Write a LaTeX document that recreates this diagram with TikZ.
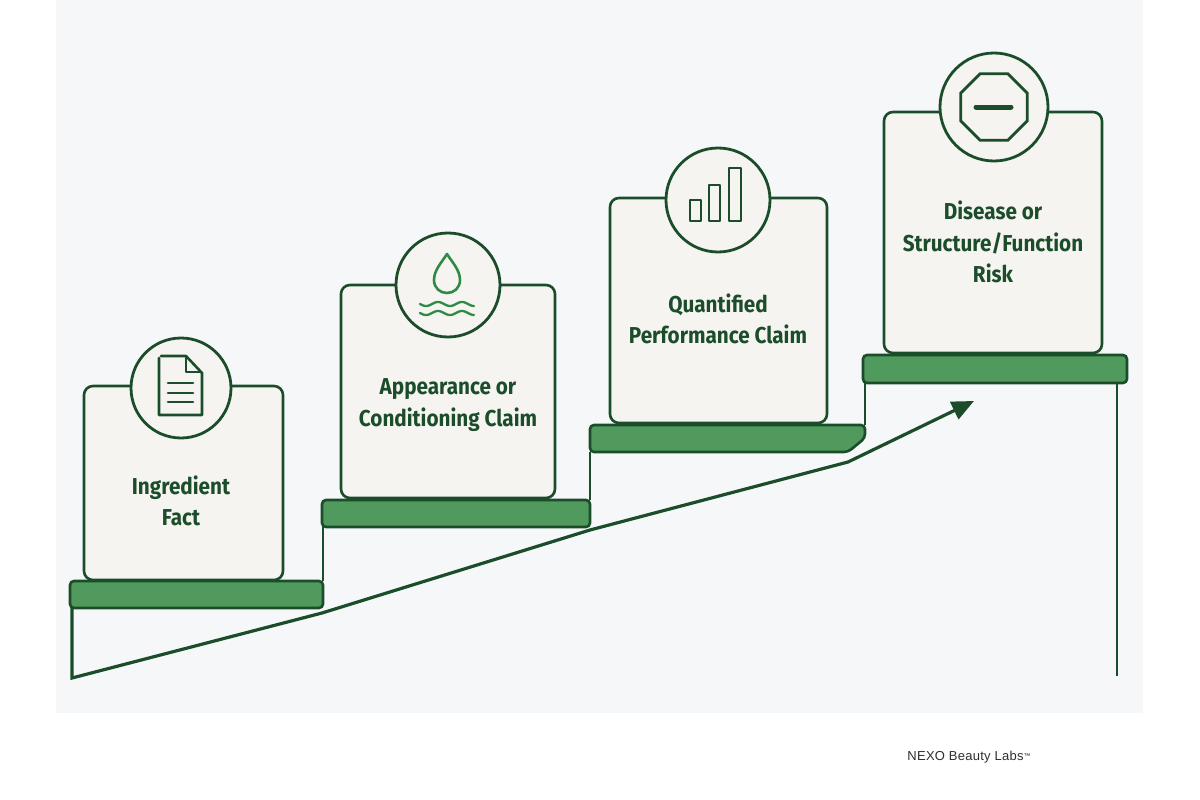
\documentclass[tikz,border=0pt]{standalone}
\usepackage{fontspec}
\setmainfont[FakeStretch=0.9]{Fira Sans}
\newfontfamily\footfont[LetterSpace=2]{Liberation Sans}
\usetikzlibrary{arrows.meta,shapes.geometric}
\definecolor{dg}{HTML}{1B4D2B}
\definecolor{pg}{HTML}{4F9A5C}
\definecolor{cardfill}{HTML}{F5F4F1}
\definecolor{panel}{HTML}{F6F7F9}
\definecolor{dropg}{HTML}{2F8A46}
\definecolor{foot}{HTML}{2E2E2E}
\begin{document}
\begin{tikzpicture}[x=1pt,y=-1pt,
  card/.style={draw=dg, line width=2.6pt, fill=cardfill, rounded corners=9pt, inner sep=0pt},
  badge/.style={circle, draw=dg, line width=2.8pt, fill=cardfill, inner sep=0pt},
  platform/.style={draw=dg, line width=2.6pt, fill=pg, rounded corners=4pt, inner sep=0pt},
  riser/.style={draw=dg, line width=2.6pt},
  trend/.style={draw=dg, line width=3.2pt, line join=miter},
  icon/.style={draw=dg, line width=2.6pt, line join=round, line cap=round},
  label/.style={text=dg, font=\bfseries\fontsize{23}{31.5}\selectfont, align=center, inner sep=0pt}
]
\useasboundingbox (0,0) rectangle (1200,800);
\fill[white] (0,0) rectangle (1200,800);
\fill[panel] (56,0) rectangle (1143,713);

% coordinates for the stair outline and trend
\coordinate (v0) at (72,606);
\coordinate (b0) at (72,678);
\coordinate (b1) at (322,613);
\coordinate (b2) at (590,530);
\coordinate (b3) at (848,462);
\coordinate (tip) at (974,401);
\coordinate (r1a) at (323,527);
\coordinate (r1b) at (323,581);
\coordinate (r2a) at (590,452);
\coordinate (r2b) at (590,500);
\coordinate (r3a) at (865,383);
\coordinate (r3b) at (865,425);
\coordinate (e0) at (1117,382);
\coordinate (e1) at (1117,676);

% risers and end lines
\draw[riser] (r1a) -- (r1b);
\draw[riser] (r2a) -- (r2b);
\draw[riser] (r3a) -- (r3b);
\draw[riser] (e0) -- (e1);
\draw[trend, -{Triangle[length=22pt,width=19pt]}] (v0) -- (b0) -- (b1) -- (b2) -- (b3) -- (tip);

% platforms
\node[platform, minimum width=253pt, minimum height=27pt] (p1) at (196.5,594.5) {};
\node[platform, minimum width=268pt, minimum height=27pt] (p2) at (456,513.5) {};
\draw[platform] (590,425) -- (865,425) -- (865,438) -- (848,452) -- (590,452) -- cycle;
\node[platform, minimum width=264pt, minimum height=28pt] (p4) at (995,369) {};

% cards
\node[card, minimum width=199pt, minimum height=194pt] (card1) at (183.5,483) {};
\node[card, minimum width=214pt, minimum height=213pt] (card2) at (448,391.5) {};
\node[card, minimum width=217pt, minimum height=225pt] (card3) at (718.5,310.5) {};
\node[card, minimum width=218pt, minimum height=241pt] (card4) at (993,232.5) {};

% badges
\node[badge, minimum size=100pt] (c1) at (181,388) {};
\node[badge, minimum size=104pt] (c2) at (448,285) {};
\node[badge, minimum size=104pt] (c3) at (718,200) {};
\node[badge, minimum size=108pt] (c4) at (994,107) {};

% icon 1: document
\draw[icon] (159,358) -- (159,415) -- (202,415) -- (202,373) -- (186,356) -- (161,356);
\draw[icon] (186,357) -- (186,372) -- (201,372);
\draw[icon] (168,383) -- (193,383);
\draw[icon] (168,393) -- (193,393);
\draw[icon] (168,402) -- (193,402);

% icon 2: drop and waves
\draw[icon, draw=dropg] (447,254) .. controls (442,262) and (434,270) .. (434,280)
  .. controls (434,288) and (440,293) .. (447,293)
  .. controls (454,293) and (460,288) .. (460,280)
  .. controls (460,270) and (452,262) .. (447,254) -- cycle;
\draw[icon, draw=dropg, line width=2.3pt] plot[domain=0:54, samples=60, smooth] ({420+\x}, {304+2*sin(\x*15)});
\draw[icon, draw=dropg, line width=2.3pt] plot[domain=0:54, samples=60, smooth] ({420+\x}, {313+2*sin(\x*15)});

% icon 3: bars
\draw[icon] (690,200) rectangle (701,221);
\draw[icon] (709,185) rectangle (720,221);
\draw[icon] (729,168) rectangle (741,221);

% icon 4: stop sign
\node[regular polygon, regular polygon sides=8, draw=dg, line width=2.8pt, minimum size=72pt, inner sep=0pt] (stop) at (994,107) {};
\draw[draw=dg, line width=5pt, line cap=round] (976,107) -- (1011,107);

% labels
\node[label] (t1) at (181,501) {Ingredient\\Fact};
\node[label] (t2) at (448,405) {Appearance or\\Conditioning Claim};
\node[label] (t3) at (718,319) {Quantified\\Performance Claim};
\node[label] (t4) at (993,242) {Disease or\\Structure/Function\\Risk};

% footer
\node[text=foot, font=\footfont\fontsize{13}{15}\selectfont, inner sep=0pt] (brand) at (969,757) {NEXO Beauty Labs\raisebox{0.3ex}{\fontsize{7}{8}\selectfont ™}};
\end{tikzpicture}
\end{document}
